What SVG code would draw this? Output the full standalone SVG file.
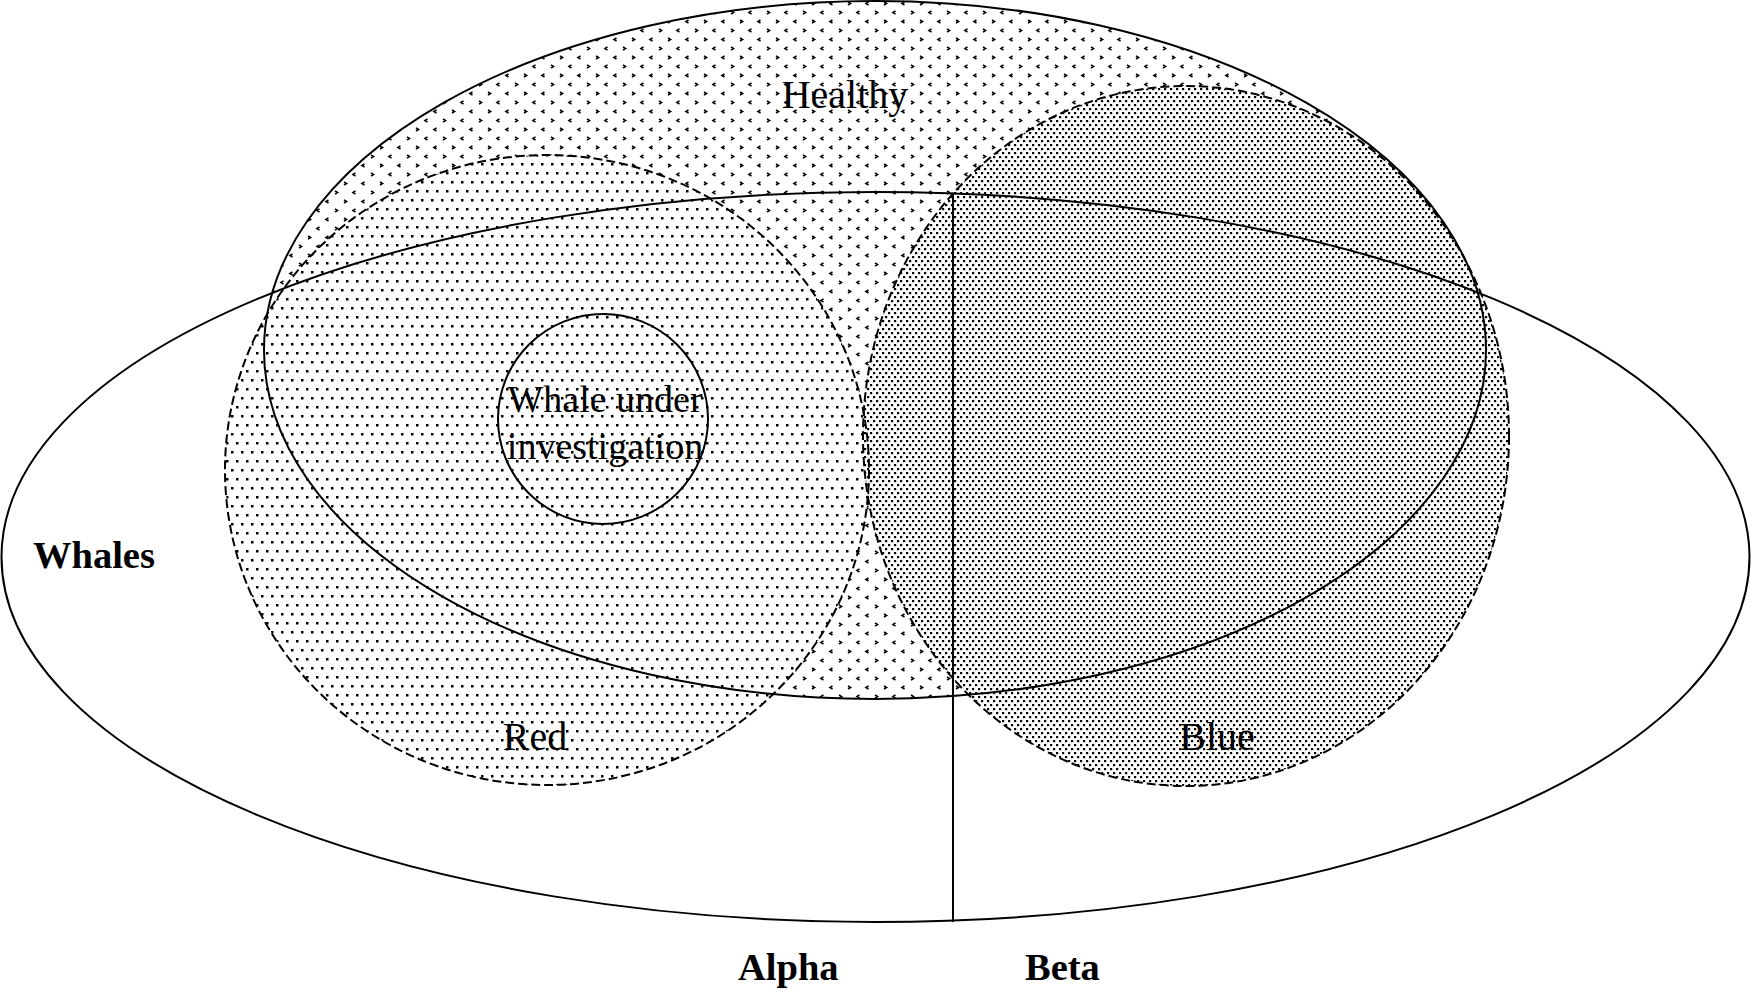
<svg xmlns="http://www.w3.org/2000/svg" width="1751" height="990" viewBox="0 0 1751 990">
  <style>
    .lbl { font-family: "Liberation Serif", "Times New Roman", serif; font-size: 40px; fill: #000; }
    .bold { font-family: "Liberation Serif", "Times New Roman", serif; font-size: 38.5px; font-weight: bold; fill: #000; }
    .solid { fill: none; stroke: #000; stroke-width: 2; }
    .dashed { fill: none; stroke: #000; stroke-width: 2; stroke-dasharray: 9 4; }
  </style>
  <defs>
    <pattern id="pHealthy" width="36" height="18" patternUnits="userSpaceOnUse">
      <rect width="36" height="18" fill="#fff"/>
      <path d="M4.5,2 L2,3.5 L4.5,5 M20,2 L22.5,3.5 L20,5 M11,11 L13.5,12.5 L11,14 M31.5,11 L29,12.5 L31.5,14" fill="none" stroke="#000" stroke-width="1.6"/>
    </pattern>
    <pattern id="pRed" width="10" height="18" patternUnits="userSpaceOnUse">
      <rect width="10" height="18" fill="#fff"/>
      <rect x="1" y="1" width="2.5" height="2.5" fill="#000"/>
      <rect x="6" y="10" width="2.5" height="2.5" fill="#000"/>
    </pattern>
    <pattern id="pBlue" width="6" height="8" patternUnits="userSpaceOnUse">
      <rect width="6" height="8" fill="#fff"/>
      <rect x="0" y="0" width="2.2" height="2.2" fill="#000"/>
      <rect x="3" y="4" width="2.2" height="2.2" fill="#000"/>
    </pattern>
  </defs>
  <rect width="1751" height="990" fill="#fff"/>

  <!-- fills -->
  <g id="fills">
    <ellipse cx="875" cy="350" rx="611" ry="349" fill="url(#pHealthy)"/>
    <ellipse cx="547" cy="470" rx="322" ry="315" fill="url(#pRed)"/>
    <ellipse cx="1186" cy="436" rx="323" ry="350" fill="url(#pBlue)"/>
  </g>

  <g id="whales">
    <ellipse class="solid" cx="875.5" cy="557" rx="874" ry="365"/>
    <text class="bold" x="33" y="568">Whales</text>
  </g>

  <g id="healthy">
    <ellipse class="solid" cx="875" cy="350" rx="611" ry="349"/>
    <text class="lbl" x="845" y="108" text-anchor="middle">Healthy</text>
  </g>

  <g id="red">
    <ellipse class="dashed" cx="547" cy="470" rx="322" ry="315"/>
    <text class="lbl" x="535" y="750" text-anchor="middle">Red</text>
  </g>

  <g id="blue">
    <ellipse class="dashed" cx="1186" cy="436" rx="323" ry="350"/>
    <text class="lbl" x="1217" y="750" text-anchor="middle">Blue</text>
  </g>

  <g id="whale-under-investigation">
    <circle class="solid" cx="603" cy="419" r="105"/>
    <text class="lbl" style="font-size:38px" x="605" y="412" text-anchor="middle">Whale under</text>
    <text class="lbl" style="font-size:38px" x="605" y="459" text-anchor="middle">investigation</text>
  </g>

  <g id="connectors">
    <line x1="953" y1="193" x2="953" y2="922" stroke="#000" stroke-width="2"/>
  </g>

  <g id="alpha">
    <text class="bold" x="738" y="980">Alpha</text>
  </g>
  <g id="beta">
    <text class="bold" x="1025" y="980">Beta</text>
  </g>
</svg>
